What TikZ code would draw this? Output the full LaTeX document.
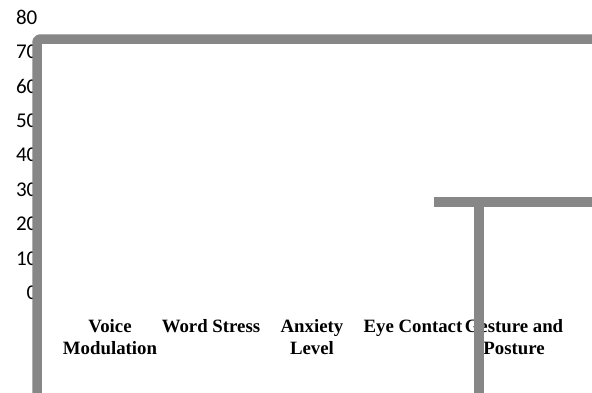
\documentclass[tikz,border=0pt]{standalone}
\usepackage{fontspec}
\setmainfont{Liberation Serif}
\newfontfamily\tickfont{Carlito}
\begin{document}
\begin{tikzpicture}[x=1pt,y=-1pt,
  ticklabel/.style={anchor=east,inner sep=0pt,font=\tickfont\fontsize{21}{21}\selectfont},
  catlabel/.style={anchor=base,inner sep=0pt,align=center,font=\fontsize{18.8}{22}\selectfont\bfseries},
  bar/.style={draw=black!47,line width=9.5pt}]
\useasboundingbox (0,0) rectangle (592,392);
\fill[white] (0,0) rectangle (592,392);
\foreach \v/\yy in {80/17,70/51.5,60/86,50/120.5,40/155,30/189.5,20/224,10/258.5,0/293}
  \node[ticklabel] (t\v) at (37.5,\yy) {\v};
\node[catlabel] (c1) at (110,354) {Voice\\Modulation};
\node[catlabel] (c2) at (211,332) {Word Stress};
\node[catlabel] (c3) at (312,354) {Anxiety\\Level};
\node[catlabel] (c4) at (413,332) {Eye Contact};
\node[catlabel] (c5) at (514,354) {Gesture and\\Posture};
\draw[bar,line join=round,rounded corners=3pt] (37,395) -- (37,39) -- (595,39);
\draw[bar] (434,202) -- (595,202);
\draw[bar] (479,202) -- (479,395);
\end{tikzpicture}
\end{document}
